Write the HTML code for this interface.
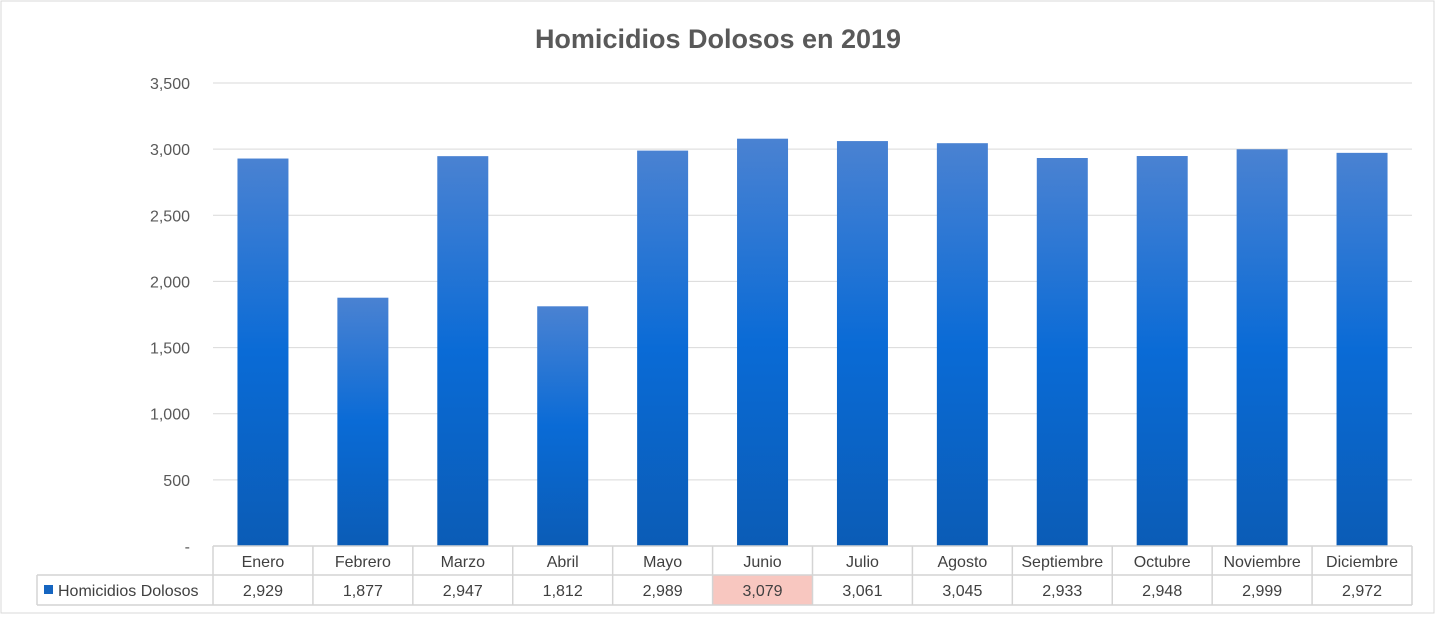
<!DOCTYPE html>
<html><head><meta charset="utf-8"><style>
body{margin:0;background:#fff;font-family:"Liberation Sans",sans-serif}
svg text{font-family:"Liberation Sans",sans-serif}
</style></head><body>
<svg width="1435" height="614">
<defs><linearGradient id="g" x1="0" y1="0" x2="0" y2="1">
<stop offset="0" stop-color="#4a82d2"/><stop offset="0.5" stop-color="#0a6bd6"/><stop offset="1" stop-color="#0b5cb6"/></linearGradient></defs>
<rect x="1" y="1" width="1433" height="612" fill="#fff" stroke="#d9d9d9"/>
<text x="718" y="48" text-anchor="middle" font-size="27" font-weight="bold" fill="#595959">Homicidios Dolosos en 2019</text>
<g id="grid"></g><g id="bars"></g><g id="table"></g>
</svg>
<script>
const categories=["Enero","Febrero","Marzo","Abril","Mayo","Junio","Julio","Agosto","Septiembre","Octubre","Noviembre","Diciembre"];
const values=[2929,1877,2947,1812,2989,3079,3061,3045,2933,2948,2999,2972];
const valueLabels=["2,929","1,877","2,947","1,812","2,989","3,079","3,061","3,045","2,933","2,948","2,999","2,972"];
const ticks=[0,500,1000,1500,2000,2500,3000,3500];
const tickLabels=["-","500","1,000","1,500","2,000","2,500","3,000","3,500"];
const NS="http://www.w3.org/2000/svg";
const x0=213,x1=1412,yBase=546,yTop=83,maxV=3500;
const cw=(x1-x0)/categories.length;
const y=v=>yBase-(v/maxV)*(yBase-yTop);
const xc=i=>x0+cw*(i+0.5);
function mk(p,tag,a,txt){const e=document.createElementNS(NS,tag);for(const k in a)e.setAttribute(k,a[k]);if(txt!=null)e.textContent=txt;p.appendChild(e);return e;}
const grid=document.getElementById('grid'),bars=document.getElementById('bars'),tbl=document.getElementById('table');
ticks.forEach((t,i)=>{
  if(t>0){const l=mk(grid,'line',{x1:x0,x2:x1,y1:y(t),y2:y(t),stroke:'#d9d9d9'});
  
  }
  const tx=mk(grid,'text',{x:190,y:y(t)+6,'text-anchor':'end','font-size':'16',fill:'#595959'},tickLabels[i]);
  
  
});
values.forEach((v,i)=>{
  const r=mk(bars,'rect',{x:xc(i)-25.5,y:y(v),width:51,height:yBase-y(v),fill:'url(#g)'});
  
  
});
// table
const r1=546,r2=575,r3=605,lx=37;
if(values.length){const hl=values.indexOf(Math.max(...values));
  const h=mk(tbl,'rect',{x:x0+cw*hl,y:r2,width:cw,height:r3-r2,fill:'#f8c7c0'});
  
  }
const st={stroke:'#d4d4d4','stroke-width':1.5};
mk(tbl,'line',Object.assign({x1:x0,x2:x1,y1:r1,y2:r1},st));
mk(tbl,'line',Object.assign({x1:lx,x2:x1,y1:r2,y2:r2},st));
mk(tbl,'line',Object.assign({x1:lx,x2:x1,y1:r3,y2:r3},st));
mk(tbl,'line',Object.assign({x1:lx,x2:lx,y1:r2,y2:r3},st));
for(let i=0;i<=categories.length;i++){mk(tbl,'line',Object.assign({x1:x0+cw*i,x2:x0+cw*i,y1:r1,y2:r3},st));}
categories.forEach((c,i)=>{
  const t=mk(tbl,'text',{x:xc(i),y:567,'text-anchor':'middle','font-size':'16',fill:'#404040'},c);
  
  
  const v=mk(tbl,'text',{x:xc(i),y:596,'text-anchor':'middle','font-size':'16',fill:'#404040'},valueLabels[i]);
  
  
});
const k=mk(tbl,'rect',{x:44,y:585,width:9,height:9,fill:'#1565c0'});


const lt=mk(tbl,'text',{x:58,y:596,'font-size':'16',fill:'#404040'},'Homicidios Dolosos');


</script>
</body></html>
